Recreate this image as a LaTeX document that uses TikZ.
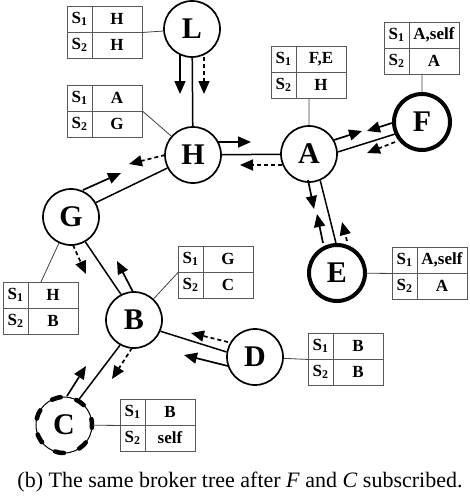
\documentclass[tikz,border=0pt]{standalone}
\usepackage{fontspec}
\setmainfont{Liberation Serif}
\usetikzlibrary{arrows.meta,calc}

\tikzset{
  broker/.style={circle, draw, line width=1.7pt, minimum size=56pt, inner sep=0pt,
    font=\fontsize{30}{30}\selectfont\bfseries},
  subbroker/.style={broker, line width=4pt},
  link/.style={line width=1.5pt},
  subarrow/.style={line width=1.7pt, -{Triangle[length=13pt,width=11pt]}},
  dasharrow/.style={subarrow, dash pattern=on 4pt off 3pt},
  tabbox/.style={draw=black!65, line width=0.9pt, minimum width=75pt, minimum height=52pt,
    inner sep=0pt, anchor=north west},
  tabline/.style={draw=black!65, line width=0.9pt},
  tabtxt/.style={inner sep=0pt, font=\fontsize{17}{17}\selectfont\bfseries},
  pinline/.style={draw=black!75, line width=0.8pt},
}

\newcommand\brokertab[4]{%
  \node[tabbox] (#1) at (#2) {};
  \draw[tabline] ($(#1.north west)+(25,0)$) -- ($(#1.south west)+(25,0)$);
  \draw[tabline] (#1.west) -- (#1.east);
  \node[tabtxt] (#1sa) at ($(#1.north west)+(12.5,13)$) {S\textsubscript{1}};
  \node[tabtxt] (#1sb) at ($(#1.north west)+(12.5,39)$) {S\textsubscript{2}};
  \node[tabtxt] (#1va) at ($(#1.north west)+(50,13)$) {#3};
  \node[tabtxt] (#1vb) at ($(#1.north west)+(50,39)$) {#4};
}

\begin{document}
\begin{tikzpicture}[x=1pt,y=-1pt]
\useasboundingbox (0,0) rectangle (469,498);

% brokers
\node[broker] (L) at (192,29) {L};
\node[broker] (H) at (193,155) {H};
\node[broker] (A) at (309,154) {A};
\node[subbroker] (F) at (422,122) {F};
\node[subbroker] (E) at (337,273) {E};
\node[broker] (G) at (71,217) {G};
\node[broker] (B) at (134,320) {B};
\node[broker] (D) at (255,357) {D};
\node[broker, line width=1pt] (C) at (64,425) {C};
\draw[line width=4.5pt, line cap=round, dash pattern=on 9pt off 16.13pt, dash phase=3pt]
  (C.center) circle[radius=28pt];

% tree links
\draw[link] (L) -- (H);
\draw[link] (H) -- (A);
\draw[link] (A.4) -- (F.204);
\draw[link] (A.293) -- (E.92);
\draw[link] (G.30) -- (H.207);
\draw[link] (G.300) -- (B.117);
\draw[link] (B.337) -- (D.170);
\draw[link] (B.241) -- (C.60);

% arrow end points
\coordinate (lhas) at (180,55);  \coordinate (lhae) at (180,94);
\coordinate (lhbs) at (204,57);  \coordinate (lhbe) at (204,94);
\coordinate (haas) at (218,142); \coordinate (haae) at (251,142);
\coordinate (hads) at (282,165); \coordinate (hade) at (240,165);
\coordinate (afas) at (334,140); \coordinate (afae) at (362,131);
\coordinate (fabs) at (392,123); \coordinate (fabe) at (367,131);
\coordinate (fads) at (395,142); \coordinate (fade) at (367,153);
\coordinate (aeas) at (308,180); \coordinate (aeae) at (314,209);
\coordinate (eabs) at (323,243); \coordinate (eabe) at (317,214);
\coordinate (eads) at (347,241); \coordinate (eade) at (342,222);
\coordinate (ghas) at (83,190);  \coordinate (ghae) at (121,173);
\coordinate (hgds) at (165,155); \coordinate (hgde) at (129,164);
\coordinate (gbds) at (73,245);  \coordinate (gbde) at (86,274);
\coordinate (bgas) at (133,292); \coordinate (bgae) at (117,261);
\coordinate (dbds) at (228,342); \coordinate (dbde) at (191,333);
\coordinate (dbas) at (228,366); \coordinate (dbae) at (184,355);
\coordinate (bcds) at (132,348); \coordinate (bcde) at (112,379);
\coordinate (cbas) at (67,396);  \coordinate (cbae) at (86,366);

% subscription arrows
\draw[subarrow] (lhas) -- (lhae);
\draw[dasharrow] (lhbs) -- (lhbe);
\draw[subarrow] (haas) -- (haae);
\draw[dasharrow] (hads) -- (hade);
\draw[subarrow] (afas) -- (afae);
\draw[subarrow] (fabs) -- (fabe);
\draw[dasharrow] (fads) -- (fade);
\draw[subarrow] (aeas) -- (aeae);
\draw[subarrow] (eabs) -- (eabe);
\draw[dasharrow] (eads) -- (eade);
\draw[subarrow] (ghas) -- (ghae);
\draw[dasharrow] (hgds) -- (hgde);
\draw[dasharrow] (gbds) -- (gbde);
\draw[subarrow] (bgas) -- (bgae);
\draw[dasharrow] (dbds) -- (dbde);
\draw[subarrow] (dbas) -- (dbae);
\draw[dasharrow] (bcds) -- (bcde);
\draw[subarrow] (cbas) -- (cbae);

% routing tables
\brokertab{Ltab}{67,6}{H}{H}
\brokertab{Htab}{67,85}{A}{G}
\brokertab{Atab}{271,46}{F,E}{H}
\brokertab{Ftab}{384,22}{A,self}{A}
\brokertab{Etab}{392,247}{A,self}{A}
\brokertab{Btab}{178,246}{G}{C}
\brokertab{Gtab}{3,282}{H}{B}
\brokertab{Dtab}{308,333}{B}{B}
\brokertab{Ctab}{120,399}{B}{self}

% table pins
\draw[pinline] (L) -- (Ltab.east);
\draw[pinline] (H) -- (Htab.east);
\draw[pinline] (A) -- (Atab.south);
\draw[pinline] (F) -- (Ftab.south);
\draw[pinline] (E) -- (Etab.west);
\draw[pinline] (B) -- (Btab.west);
\draw[pinline] (G) -- (Gtab.north);
\draw[pinline] (D) -- (Dtab.west);
\draw[pinline] (C) -- (Ctab.west);

% caption
\node[font=\fontsize{22}{22}\selectfont, anchor=base, inner sep=0pt] (cap) at (240,487)
  {(b) The same broker tree after \textit{F} and \textit{C} subscribed.};
\end{tikzpicture}
\end{document}
